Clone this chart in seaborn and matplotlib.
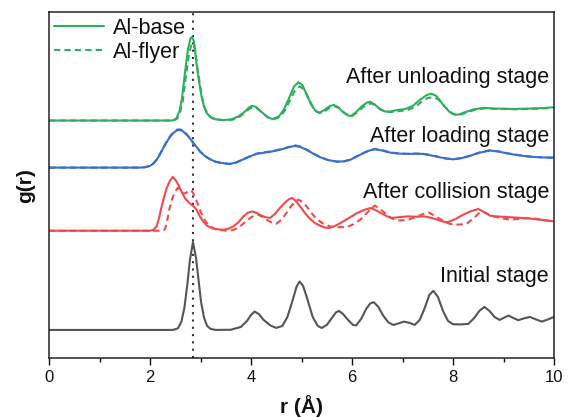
# rdf_stages.py
# g(r) of the Al base / Al flyer at each stage of the impact run,
# stacked with vertical offsets so the curves do not overlap.

import numpy as np
import matplotlib
matplotlib.use("Agg")
import matplotlib.pyplot as plt
from matplotlib.ticker import MultipleLocator
import seaborn as sns

# ------------------------------------------------------------------
# g(r) (r in angstrom)
# ------------------------------------------------------------------

# initial stage (base and flyer identical here)
r_init = [0.0, 2.45, 2.55, 2.62, 2.68, 2.74, 2.79, 2.85, 2.91, 2.96, 3.01, 3.07, 3.13, 3.2, 3.3,
          3.6, 3.8, 3.92, 4.0, 4.07, 4.15, 4.25, 4.38, 4.5, 4.62, 4.72, 4.82, 4.9, 4.96, 5.03,
          5.12, 5.22, 5.32, 5.4, 5.5, 5.6, 5.68, 5.74, 5.82, 5.92, 6.02, 6.08, 6.18, 6.28, 6.36,
          6.43, 6.52, 6.62, 6.72, 6.82, 6.92, 7.03, 7.14, 7.24, 7.34, 7.44, 7.53, 7.61, 7.7, 7.8,
          7.9, 8.0, 8.15, 8.3, 8.42, 8.52, 8.62, 8.72, 8.82, 8.92, 9.02, 9.1, 9.19, 9.29, 9.4,
          9.52, 9.64, 9.76, 9.88, 10.0]
g_init = [0.0, 0.0, 0.15, 0.8, 2.2, 4.6, 7.0, 8.77, 7.2, 5.0, 2.8, 1.2, 0.4, 0.1, 0.0,
          0.02, 0.3, 0.9, 1.5, 1.83, 1.6, 1.0, 0.45, 0.2, 0.4, 1.3, 2.9, 4.3, 4.83, 4.4,
          3.0, 1.3, 0.4, 0.2, 0.5, 1.2, 1.75, 1.9, 1.6, 1.0, 0.5, 0.45, 1.1, 2.1, 2.65,
          2.77, 2.3, 1.4, 0.75, 0.5, 0.65, 0.83, 0.7, 0.5, 1.0, 2.2, 3.5, 3.9, 3.3, 1.9,
          0.9, 0.57, 0.55, 0.6, 1.2, 1.9, 2.3, 1.9, 1.3, 1.0, 1.25, 1.43, 1.2, 0.97, 1.15,
          1.3, 1.05, 0.83, 1.05, 1.3]

# after collision
r_col_base = [0.0, 2.0, 2.07, 2.13, 2.18, 2.23, 2.28, 2.33, 2.39, 2.45, 2.5, 2.56, 2.62, 2.69,
              2.75, 2.82, 2.87, 2.92, 2.98, 3.05, 3.13, 3.22, 3.33, 3.45, 3.55, 3.65, 3.75, 3.85,
              3.94, 4.03, 4.12, 4.21, 4.29, 4.37, 4.47, 4.57, 4.67, 4.75, 4.81, 4.88, 4.97, 5.07,
              5.17, 5.27, 5.37, 5.45, 5.54, 5.65, 5.77, 5.93, 6.1, 6.25, 6.37, 6.47, 6.57, 6.67,
              6.77, 6.93, 7.1, 7.27, 7.43, 7.56, 7.69, 7.78, 7.88, 8.04, 8.2, 8.35, 8.5, 8.62,
              8.73, 8.9, 9.06, 9.22, 9.39, 9.55, 9.72, 9.86, 10.0]
g_col_base = [0.0, 0.0, 0.1, 0.43, 1.3, 2.43, 3.4, 4.27, 4.95, 5.37, 5.1, 4.6, 3.95, 3.27,
              2.9, 2.6, 2.4, 2.1, 1.5, 0.93, 0.5, 0.27, 0.15, 0.1, 0.2, 0.43, 0.85, 1.43,
              1.8, 1.93, 1.75, 1.5, 1.35, 1.27, 1.65, 2.27, 2.8, 3.15, 3.27, 3.0, 2.43, 1.75,
              1.17, 0.75, 0.5, 0.33, 0.27, 0.45, 0.77, 1.25, 1.77, 2.1, 2.27, 2.05, 1.77, 1.5,
              1.27, 1.35, 1.43, 1.4, 1.43, 1.3, 1.1, 0.95, 0.83, 1.15, 1.6, 1.95, 2.17, 1.85,
              1.5, 1.42, 1.37, 1.32, 1.27, 1.2, 1.1, 1.02, 0.93]
r_col_flyer = [0.0, 2.23, 2.27, 2.3, 2.34, 2.38, 2.44, 2.5, 2.55, 2.6, 2.65, 2.7, 2.76, 2.82,
               2.88, 2.95, 3.01, 3.08, 3.16, 3.28, 3.42, 3.58, 3.68, 3.78, 3.88, 3.98, 4.06, 4.14,
               4.22, 4.3, 4.4, 4.5, 4.6, 4.7, 4.8, 4.88, 4.94, 5.02, 5.1, 5.2, 5.3, 5.43, 5.57,
               5.73, 5.9, 6.03, 6.16, 6.3, 6.4, 6.45, 6.55, 6.69, 6.78, 6.88, 7.02, 7.15, 7.33,
               7.45, 7.51, 7.6, 7.74, 7.87, 8.0, 8.13, 8.27, 8.42, 8.5, 8.57, 8.67, 8.8, 8.96,
               9.13, 9.33, 9.52, 9.7, 9.86, 10.0]
g_col_flyer = [0.0, 0.0, 0.05, 0.2, 1.0, 2.1, 3.2, 3.93, 4.27, 4.1, 3.7, 3.75, 3.95, 4.03,
               3.5, 2.6, 1.8, 1.1, 0.55, 0.17, 0.05, 0.0, 0.15, 0.43, 0.85, 1.27, 1.5, 1.6,
               1.4, 1.1, 0.85, 0.7, 1.1, 1.77, 2.5, 2.95, 3.1, 2.85, 2.43, 1.75, 1.17, 0.7, 0.43,
               0.35, 0.37, 0.65, 1.1, 1.8, 2.3, 2.5, 2.2, 1.6, 1.25, 1.03, 1.05, 1.17, 1.5,
               1.75, 1.83, 1.6, 1.17, 0.8, 0.6, 0.62, 0.7, 1.3, 1.7, 1.93, 1.7, 1.43, 1.25,
               1.1, 1.2, 1.27, 1.15, 1.02, 0.93]

# after loading
r_load = [0.0, 1.8, 1.9, 2.0, 2.07, 2.13, 2.2, 2.26, 2.33, 2.4, 2.47, 2.53, 2.58, 2.63, 2.68,
          2.73, 2.8, 2.86, 2.93, 2.99, 3.09, 3.19, 3.28, 3.38, 3.48, 3.58, 3.7, 3.85, 3.98,
          4.11, 4.24, 4.37, 4.5, 4.64, 4.76, 4.87, 4.98, 5.1, 5.23, 5.37, 5.53, 5.7, 5.83,
          5.96, 6.09, 6.22, 6.34, 6.45, 6.6, 6.75, 6.92, 7.08, 7.25, 7.41, 7.58, 7.74, 7.87,
          8.0, 8.17, 8.33, 8.53, 8.73, 8.9, 9.06, 9.23, 9.39, 9.55, 9.72, 9.86, 10.0]
g_load_base = [0.0, 0.0, 0.04, 0.17, 0.42, 0.77, 1.35, 1.93, 2.55, 3.1, 3.5, 3.7, 3.75, 3.7, 3.5,
               3.27, 2.85, 2.43, 2.0, 1.6, 1.15, 0.83, 0.62, 0.5, 0.42, 0.37, 0.5, 0.83, 1.12,
               1.37, 1.48, 1.57, 1.7, 1.87, 2.05, 2.17, 2.05, 1.77, 1.4, 1.03, 0.75, 0.6, 0.62,
               0.77, 1.1, 1.43, 1.7, 1.83, 1.7, 1.5, 1.4, 1.37, 1.38, 1.37, 1.2, 1.03, 0.9,
               0.83, 0.95, 1.17, 1.5, 1.7, 1.6, 1.43, 1.28, 1.17, 1.08, 1.03, 1.0, 1.0]
g_load_flyer = [0.0, 0.0, 0.04, 0.18, 0.44, 0.8, 1.38, 1.97, 2.6, 3.15, 3.56, 3.78, 3.82, 3.76, 3.55,
                3.3, 2.87, 2.44, 2.0, 1.6, 1.14, 0.82, 0.61, 0.49, 0.41, 0.37, 0.5, 0.84, 1.14,
                1.39, 1.52, 1.6, 1.74, 1.9, 2.08, 2.22, 2.1, 1.8, 1.42, 1.04, 0.75, 0.6, 0.62,
                0.78, 1.12, 1.45, 1.73, 1.87, 1.74, 1.52, 1.42, 1.38, 1.4, 1.38, 1.22, 1.04, 0.9,
                0.83, 0.95, 1.18, 1.52, 1.74, 1.62, 1.45, 1.3, 1.18, 1.09, 1.04, 1.0, 1.0]

# after unloading
r_unl_base = [0.0, 2.45, 2.52, 2.58, 2.63, 2.69, 2.75, 2.8, 2.83, 2.87, 2.92, 2.97, 3.02, 3.07,
              3.12, 3.2, 3.3, 3.45, 3.6, 3.75, 3.88, 3.96, 4.02, 4.1, 4.2, 4.32, 4.42, 4.55, 4.65,
              4.75, 4.85, 4.94, 5.02, 5.1, 5.2, 5.28, 5.35, 5.45, 5.56, 5.64, 5.72, 5.82, 5.92,
              5.98, 6.08, 6.2, 6.3, 6.36, 6.45, 6.55, 6.65, 6.75, 6.9, 7.05, 7.2, 7.35, 7.48,
              7.57, 7.67, 7.8, 7.92, 8.02, 8.1, 8.25, 8.4, 8.6, 8.8, 9.0, 9.2, 9.4, 9.6, 9.8, 10.0]
g_unl_base = [0.0, 0.0, 0.2, 0.9, 2.1, 4.7, 7.1, 8.2, 8.33, 7.9, 5.7, 3.9, 2.4, 1.4,
              0.75, 0.35, 0.12, 0.05, 0.1, 0.4, 0.9, 1.3, 1.47, 1.35, 0.9, 0.35, 0.15, 0.4, 1.1,
              2.2, 3.4, 3.83, 3.5, 2.6, 1.5, 0.95, 0.75, 1.05, 1.45, 1.55, 1.35, 0.85, 0.5,
              0.45, 0.85, 1.45, 1.8, 1.87, 1.6, 1.15, 0.9, 0.9, 1.05, 1.15, 1.45, 2.1, 2.55,
              2.67, 2.45, 1.6, 0.9, 0.6, 0.58, 0.85, 1.1, 1.27, 1.2, 1.18, 1.15, 1.18, 1.2, 1.25, 1.33]
r_unl_flyer = [0.0, 2.47, 2.54, 2.6, 2.65, 2.71, 2.77, 2.82, 2.85, 2.89, 2.94, 2.99, 3.04, 3.09,
               3.14, 3.22, 3.32, 3.5, 3.65, 3.78, 3.9, 3.98, 4.04, 4.12, 4.22, 4.34, 4.45, 4.57,
               4.67, 4.77, 4.87, 4.96, 5.04, 5.12, 5.22, 5.3, 5.38, 5.48, 5.58, 5.66, 5.74, 5.84,
               5.94, 6.0, 6.1, 6.22, 6.32, 6.38, 6.47, 6.57, 6.67, 6.8, 6.95, 7.1, 7.25, 7.38,
               7.5, 7.6, 7.7, 7.82, 7.94, 8.04, 8.15, 8.3, 8.45, 8.65, 8.85, 9.05, 9.25, 9.45,
               9.65, 9.85, 10.0]
g_unl_flyer = [0.0, 0.0, 0.2, 0.9, 2.0, 4.4, 6.6, 7.6, 7.7, 7.2, 5.2, 3.5, 2.1, 1.2,
               0.6, 0.25, 0.08, 0.03, 0.1, 0.4, 0.9, 1.2, 1.3, 1.2, 0.8, 0.3, 0.12, 0.35,
               1.0, 2.0, 3.0, 3.4, 3.15, 2.4, 1.4, 0.9, 0.75, 1.0, 1.35, 1.42, 1.25, 0.8,
               0.5, 0.45, 0.8, 1.35, 1.65, 1.7, 1.5, 1.1, 0.85, 0.85, 0.95, 1.05, 1.35, 1.9,
               2.25, 2.33, 2.15, 1.45, 0.85, 0.6, 0.6, 0.85, 1.1, 1.22, 1.15, 1.15, 1.12, 1.15,
               1.18, 1.22, 1.3]

stage_labels = ["Initial stage", "After collision stage", "After loading stage", "After unloading stage"]
legend_labels = ["Al-base", "Al-flyer"]
r_first_peak = 2.86   # dotted guide at the first neighbour distance

# vertical stacking (layout, not data)
offsets = [2.8, 12.7, 19.0, 23.7]
label_y = [8.1, 16.5, 22.1, 28.0]

c_black = "#555555"
c_red = "#f24a4a"
c_blue = "#3a70c8"
c_green = "#2eaf5e"

# ------------------------------------------------------------------
# plot
# ------------------------------------------------------------------

sns.set_style("ticks")
plt.rcParams["font.family"] = ["Liberation Sans", "DejaVu Sans"]
plt.rcParams["text.color"] = "#111111"
plt.rcParams["axes.labelcolor"] = "#111111"
plt.rcParams["xtick.color"] = "#111111"

fig = plt.figure(figsize=(5.72, 4.17), dpi=100)
ax = fig.add_axes([0.0857, 0.1415, 0.883, 0.829])

lw = 1.5
sns.lineplot(x=r_init, y=np.array(g_init) + offsets[0], color=c_black, lw=lw, ax=ax, sort=False)

sns.lineplot(x=r_col_base, y=np.array(g_col_base) + offsets[1], color=c_red, lw=lw, ax=ax, sort=False)
sns.lineplot(x=r_col_flyer, y=np.array(g_col_flyer) + offsets[1], color=c_red, lw=lw,
             ls=(0, (3, 2)), ax=ax, sort=False)

sns.lineplot(x=r_load, y=np.array(g_load_base) + offsets[2], color=c_blue, lw=lw, ax=ax, sort=False)
sns.lineplot(x=r_load, y=np.array(g_load_flyer) + offsets[2], color=c_blue, lw=lw,
             ls=(0, (3, 2)), ax=ax, sort=False)

sns.lineplot(x=r_unl_base, y=np.array(g_unl_base) + offsets[3], color=c_green, lw=lw, ax=ax,
             sort=False, label=legend_labels[0])
sns.lineplot(x=r_unl_flyer, y=np.array(g_unl_flyer) + offsets[3], color=c_green, lw=lw,
             ls=(0, (3, 2)), ax=ax, sort=False, label=legend_labels[1])

ax.axvline(r_first_peak, color="#333333", ls=(0, (1, 2.5)), lw=1.5, zorder=0)

for lab, yy in zip(stage_labels, label_y):
    ax.text(9.9, yy, lab, ha="right", va="center", fontsize=15.5)

ax.set_xlim(0, 10)
ax.set_ylim(0, 34.5)
ax.xaxis.set_major_locator(MultipleLocator(2))
ax.xaxis.set_minor_locator(MultipleLocator(1))
ax.set_yticks([])
ax.tick_params(axis="x", which="major", direction="out", length=5, width=1, labelsize=12, pad=4)
ax.tick_params(axis="x", which="minor", direction="out", length=3, width=1)
for sp in ax.spines.values():
    sp.set_visible(True)
    sp.set_linewidth(1.1)
    sp.set_color("#222222")

ax.set_xlabel("r (Å)", fontsize=15, fontweight="bold", labelpad=7)
ax.set_ylabel("g(r)", fontsize=15, fontweight="bold", labelpad=10)

ax.legend(loc="upper left", frameon=False, fontsize=15.5, handlelength=2.3,
          borderaxespad=0.0, borderpad=0.25, labelspacing=0.15, handletextpad=0.4)

plt.savefig("out.png", dpi=100)
plt.close()
